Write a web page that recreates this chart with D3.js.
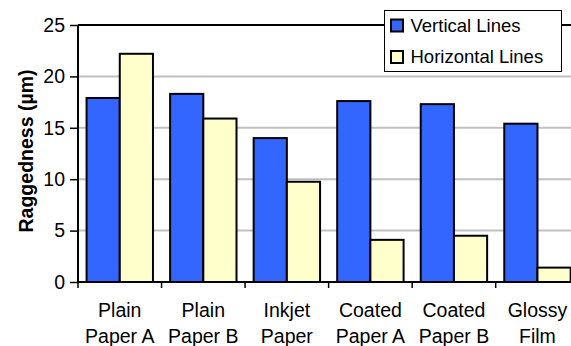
<!DOCTYPE html>
<html>
<head>
<meta charset="utf-8">
<script src="https://cdn.jsdelivr.net/npm/d3@7"></script>
<style>
html,body{margin:0;padding:0;background:#fff;}
svg{display:block;font-family:Arial,"Liberation Sans",sans-serif;}
</style>
</head>
<body>
<svg id="chart" width="571" height="346"></svg>
<script>
const categories = [["Plain","Paper A"],["Plain","Paper B"],["Inkjet","Paper"],["Coated","Paper A"],["Coated","Paper B"],["Glossy","Film"]];
const seriesNames = ["Vertical Lines","Horizontal Lines"];
const verticalLines = [17.9, 18.3, 14.0, 17.6, 17.3, 15.4];
const horizontalLines = [22.2, 15.9, 9.75, 4.1, 4.5, 1.4];
const yTicks = [0,5,10,15,20,25];
const colors = ["#3366FF","#FFFFCC"];

(function(){
const svg = d3.select("#chart");
const mLeft = 78, mTop = 25, mBottom = 282, bandW = 83.54;
const mRight = mLeft + bandW * categories.length;

const x = d3.scaleBand().domain(d3.range(categories.length)).range([mLeft, mRight]).paddingInner(0).paddingOuter(0);
const y = d3.scaleLinear().domain([0,25]).range([mBottom, mTop]);
const groupW = 66.4;
const xs = d3.scaleBand().domain([0,1]).range([0, groupW]);

// gridlines
svg.append("g").selectAll("line").data(yTicks.filter(t => t > 0 && t < 25)).join("line")
  .attr("x1", mLeft).attr("x2", mRight).attr("y1", d => y(d)).attr("y2", d => y(d))
  .attr("stroke", "#c0c0c0").attr("stroke-width", 2);

// top border
svg.append("line").attr("x1", mLeft).attr("x2", mRight).attr("y1", y(25)).attr("y2", y(25))
  .attr("stroke", "#000").attr("stroke-width", 2);

// bars
const series = [verticalLines, horizontalLines];
const off = (bandW - groupW) / 2;
series.forEach((vals, si) => {
  svg.append("g").selectAll("rect").data(vals).join("rect")
    .attr("x", (d, i) => x(i) + off + xs(si))
    .attr("y", d => y(d))
    .attr("width", xs.bandwidth())
    .attr("height", d => y(0) - y(d))
    .attr("fill", colors[si]).attr("stroke", "#000").attr("stroke-width", 2);
});

// y axis
const yAxis = d3.axisLeft(y).tickValues(yTicks).tickSize(8).tickPadding(5);
const gy = svg.append("g").attr("transform", `translate(${mLeft},0)`).call(yAxis);
gy.select(".domain").attr("stroke-width", 2).attr("d", `M0,${mTop}V${mBottom}`);
gy.selectAll(".tick line").attr("stroke-width", 1.5);
gy.selectAll(".tick text").attr("font-size", 19.5).attr("font-family", "Arial, 'Liberation Sans', sans-serif").attr("fill", "#000");

// x axis
const xTickPos = d3.range(categories.length).map(i => x(i));
svg.append("line").attr("x1", mLeft).attr("x2", mRight).attr("y1", mBottom).attr("y2", mBottom)
  .attr("stroke", "#000").attr("stroke-width", 2);
svg.append("g").selectAll("line").data(xTickPos).join("line")
  .attr("x1", d => d).attr("x2", d => d).attr("y1", mBottom).attr("y2", mBottom + 6)
  .attr("stroke", "#000").attr("stroke-width", 1.5);
const xl = svg.append("g").selectAll("text").data(categories).join("text")
  .attr("x", (d, i) => x(i) + bandW / 2)
  .attr("text-anchor", "middle").attr("font-size", 19.5).attr("fill", "#000");
xl.append("tspan").attr("x", (d, i) => x(i) + bandW / 2).attr("y", 317).text(d => d[0]);
xl.append("tspan").attr("x", (d, i) => x(i) + bandW / 2).attr("y", 343).text(d => d[1]);

// y title
svg.append("text").attr("transform", `translate(33,151) rotate(-90)`)
  .attr("text-anchor", "middle").attr("font-size", 19.5).attr("font-weight", "bold")
  .text("Raggedness (µm)");

// legend
const lg = svg.append("g");
lg.append("rect").attr("x", 384.5).attr("y", 10.5).attr("width", 177).attr("height", 61)
  .attr("fill", "#fff").attr("stroke", "#000").attr("stroke-width", 1);
seriesNames.forEach((n, i) => {
  lg.append("rect").attr("x", 391).attr("y", 19.5 + i * 31.5).attr("width", 12).attr("height", 12)
    .attr("fill", colors[i]).attr("stroke", "#000").attr("stroke-width", 2);
  lg.append("text").attr("x", 410.5).attr("y", 31.5 + i * 31.5).attr("font-size", 18.5).text(n);
});
})();
</script>
</body>
</html>
